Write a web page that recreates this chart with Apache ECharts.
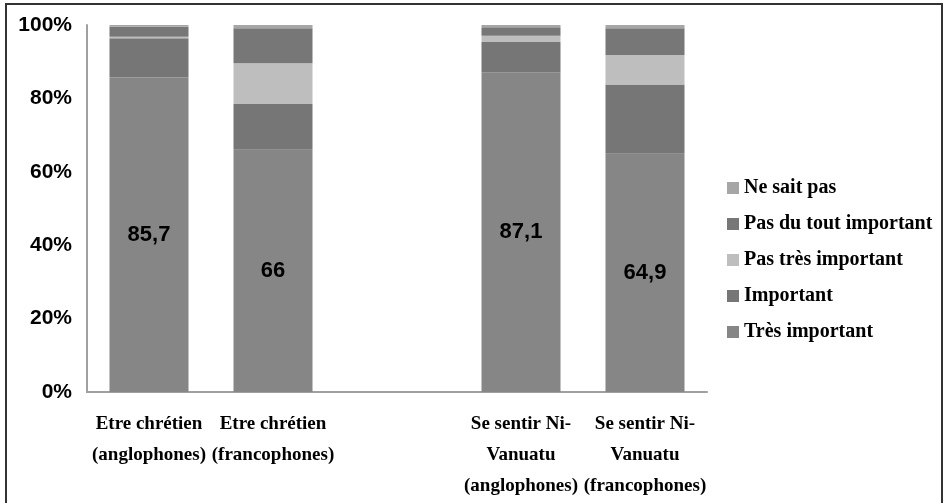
<!DOCTYPE html>
<html>
<head>
<meta charset="utf-8">
<script src="https://cdn.jsdelivr.net/npm/echarts@6/dist/echarts.min.js"></script>
<style>html,body{margin:0;padding:0;background:#fff}#c{width:944px;height:503px}</style>
</head>
<body>
<div id="c"></div>
<script>
const categories = ['Etre chrétien\n(anglophones)', 'Etre chrétien\n(francophones)', '', 'Se sentir Ni-\nVanuatu\n(anglophones)', 'Se sentir Ni-\nVanuatu\n(francophones)'];
const tresImportant = [85.7, 66, null, 87.1, 64.9];
const important = [10.7, 12.5, null, 8.3, 18.9];
const pasTresImportant = [0.4, 11.1, null, 1.7, 8.0];
const pasDuToutImportant = [2.7, 9.5, null, 2.3, 7.3];
const neSaitPas = [0.5, 0.9, null, 0.6, 0.9];
const yTicks = [0, 20, 40, 60, 80, 100];

const seriesDefs = [
  { name: 'Très important', data: tresImportant, color: '#868686', label: true },
  { name: 'Important', data: important, color: '#767676' },
  { name: 'Pas très important', data: pasTresImportant, color: '#bebebe' },
  { name: 'Pas du tout important', data: pasDuToutImportant, color: '#777777' },
  { name: 'Ne sait pas', data: neSaitPas, color: '#a6a6a6' }
];

const chart = echarts.init(document.getElementById('c'));
chart.setOption({
  animation: false,
  backgroundColor: '#fff',
  grid: { left: 87, right: 237, top: 25, bottom: 111, containLabel: false },
  legend: {
    orient: 'vertical',
    left: 722,
    top: 173,
    itemWidth: 12,
    itemHeight: 12,
    itemGap: 16,
    icon: 'rect',
    data: ['Ne sait pas', 'Pas du tout important', 'Pas très important', 'Important', 'Très important'],
    textStyle: { fontFamily: 'Liberation Serif', fontWeight: 'bold', fontSize: 20, color: '#000' }
  },
  xAxis: {
    type: 'category',
    data: categories,
    axisLine: { lineStyle: { color: '#a0a0a0', width: 2 } },
    axisTick: { show: false },
    axisLabel: {
      interval: 0, margin: 17,
      fontFamily: 'Liberation Serif', fontWeight: 'bold', fontSize: 19, lineHeight: 31, color: '#000'
    }
  },
  yAxis: {
    type: 'value',
    min: yTicks[0], max: yTicks[yTicks.length - 1], interval: 20,
    splitLine: { show: false },
    axisLine: { show: true, lineStyle: { color: '#a0a0a0', width: 2 } },
    axisTick: { show: false },
    axisLabel: {
      margin: 15, formatter: '{value}%',
      fontFamily: 'Liberation Sans', fontWeight: 'bold', fontSize: 21, color: '#000'
    }
  },
  series: seriesDefs.map(s => ({
    name: s.name,
    type: 'bar',
    stack: 'total',
    barWidth: 79,
    data: s.data,
    itemStyle: { color: s.color },
    label: s.label ? {
      show: true, position: 'inside',
      formatter: p => String(p.value).replace('.', ','),
      fontFamily: 'Liberation Sans', fontWeight: 'bold', fontSize: 22, color: '#000'
    } : { show: false }
  })),
  graphic: [{
    type: 'rect',
    shape: { x: 6, y: 4, width: 936, height: 520 },
    style: { fill: 'none', stroke: '#333', lineWidth: 2 },
    silent: true
  }]
});
</script>
</body>
</html>
